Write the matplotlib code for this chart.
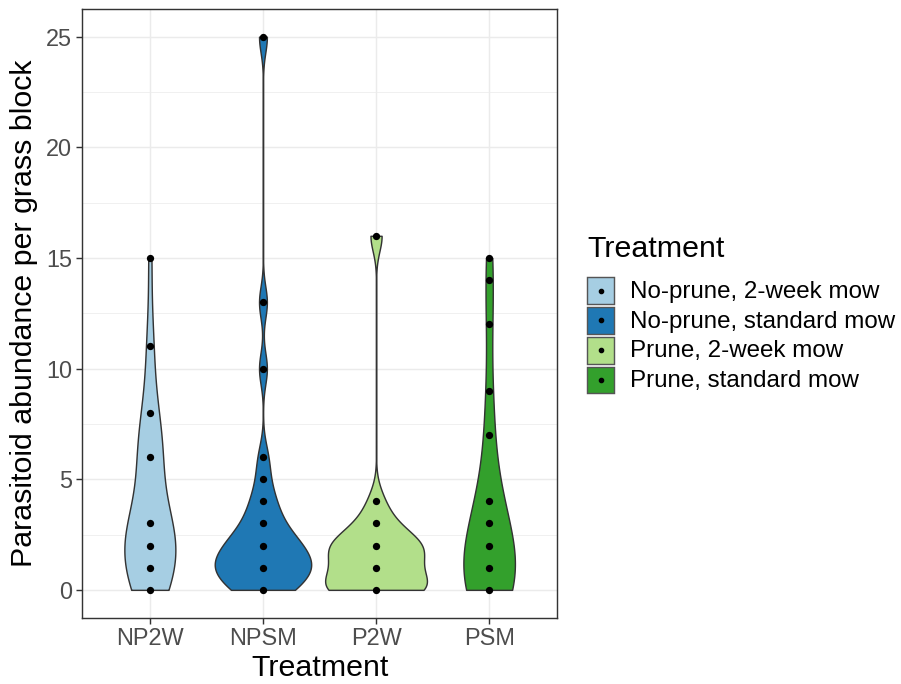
import numpy as np
import matplotlib
matplotlib.use("Agg")
import matplotlib.pyplot as plt
from matplotlib.patches import Rectangle
from matplotlib.lines import Line2D

plt.rcParams['font.family'] = ['Liberation Sans', 'DejaVu Sans']

# data: parasitoid counts per grass block, as (value, number of blocks)
groups = ['NP2W', 'NPSM', 'P2W', 'PSM']
labels = ['No-prune, 2-week mow', 'No-prune, standard mow',
          'Prune, 2-week mow', 'Prune, standard mow']
np2w_vals = [0, 1, 2, 3, 6, 8, 11, 15]
np2w_n    = [5, 5, 5, 7, 6, 3, 2, 1]
npsm_vals = [0, 1, 2, 3, 4, 5, 6, 10, 13, 25]
npsm_n    = [5, 8, 6, 3, 2, 1, 1, 1, 1, 1]
p2w_vals  = [0, 1, 2, 3, 4, 16]
p2w_n     = [7, 4, 6, 2, 1, 1]
psm_vals  = [0, 1, 2, 3, 4, 7, 9, 12, 14, 15]
psm_n     = [8, 6, 3, 2, 4, 2, 1, 1, 1, 1]

vals = [np2w_vals, npsm_vals, p2w_vals, psm_vals]
cnts = [np2w_n, npsm_n, p2w_n, psm_n]
bw = [1.7, 0.72, 0.70, 2.0]          # kernel bandwidth per group
colors = ['#A6CEE3', '#1F78B4', '#B2DF8A', '#33A02C']
W, H = 901, 684


def kde(v, n, h, y):
    v = np.asarray(v, float)[:, None]
    n = np.asarray(n, float)[:, None]
    d = n * np.exp(-0.5 * ((y[None, :] - v) / h) ** 2) / (h * np.sqrt(2 * np.pi))
    return d.sum(0) / n.sum()


grids, dens = [], []
for v, n, h in zip(vals, cnts, bw):
    y = np.linspace(min(v), max(v), 512)
    grids.append(y)
    dens.append(kde(v, n, h, y))
dmax = max(d.max() for d in dens)   # same area for every violin

fig = plt.figure(figsize=(W / 96, H / 96), dpi=96)
ax = fig.add_axes([82 / W, 1 - 617.5 / H, 475 / W, 608.5 / H])

ax.set_xlim(0.4, 4.6)
ax.set_ylim(-1.25, 26.25)
ax.set_yticks([0, 5, 10, 15, 20, 25])
ax.set_yticks([2.5, 7.5, 12.5, 17.5, 22.5], minor=True)
ax.set_xticks([1, 2, 3, 4])
ax.set_xticklabels(groups)
ax.grid(which='major', color='#EBEBEB', lw=1.07, zorder=0)
ax.grid(which='minor', axis='y', color='#EBEBEB', lw=0.53, zorder=0)
ax.set_axisbelow(True)
ax.tick_params(which='major', length=4.3, width=1.07, color='#333333',
               labelsize=17.6, labelcolor='#4D4D4D', pad=3)
ax.tick_params(which='minor', length=0)
for s in ax.spines.values():
    s.set_color('#333333')
    s.set_linewidth(1.07)

for i, (y, d) in enumerate(zip(grids, dens)):
    w = 0.45 * d / dmax
    ax.fill_betweenx(y, i + 1 - w, i + 1 + w, facecolor=colors[i],
                     edgecolor='#333333', lw=1.07, zorder=2)
    ax.scatter([i + 1] * len(vals[i]), vals[i], s=30, color='black',
               lw=0, zorder=3)

fig.text(320 / W, 1 - 676 / H, 'Treatment', fontsize=22.8,
         ha='center', va='baseline')
fig.text(24 / W, 1 - 313 / H, 'Parasitoid abundance per grass block',
         fontsize=22.8, rotation=90, ha='center', va='center')

# legend, drawn in figure pixels
fig.text(587 / W, 1 - 257 / H, 'Treatment', fontsize=22.8,
         ha='left', va='baseline')
for i, (c, lab) in enumerate(zip(colors, labels)):
    top = 277.3 + i * 29.8
    fig.add_artist(Rectangle((587 / W, 1 - (top + 26.7) / H), 27.3 / W,
                             26.7 / H, transform=fig.transFigure,
                             facecolor=c, edgecolor='#555555', lw=1.07))
    fig.add_artist(Line2D([600.5 / W], [1 - (top + 13.35) / H],
                          transform=fig.transFigure, marker='o', ls='',
                          color='black', markersize=3.2))
    fig.text(630 / W, 1 - (top + 14.5) / H, lab, fontsize=18.1,
             ha='left', va='center')

fig.savefig('out.png', dpi=96)
